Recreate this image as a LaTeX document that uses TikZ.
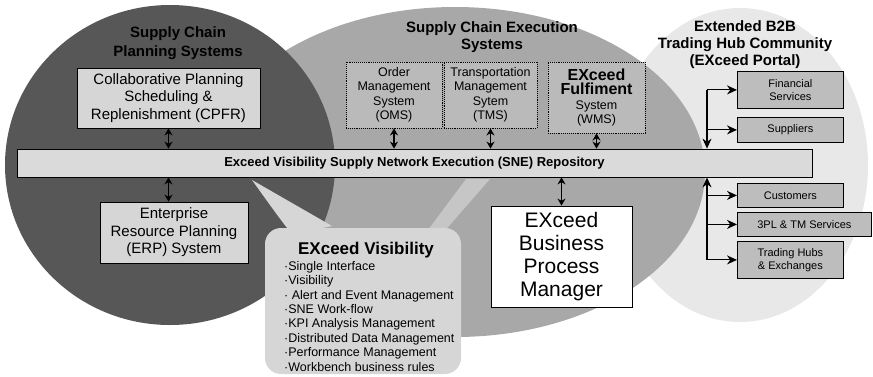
\documentclass[tikz,border=0pt]{standalone}
\usepackage{fontspec}
\setmainfont{Liberation Sans}
\usetikzlibrary{arrows.meta,positioning,calc}

\definecolor{darkball}{gray}{0.34}
\definecolor{midball}{gray}{0.66}
\definecolor{lightball}{gray}{0.91}
\definecolor{panel}{gray}{0.84}
\definecolor{partner}{gray}{0.74}

\newcommand{\bigbold}{\bfseries\fontsize{16}{18}\selectfont}

\tikzset{
  heading/.style={align=center, font=\bfseries\fontsize{15}{17}\selectfont},
  planbox/.style={draw=black, line width=0.8pt, fill=panel, align=center, inner sep=2pt, font=\fontsize{15}{17.5}\selectfont},
  execbox/.style={draw=black, densely dotted, line width=0.9pt, fill=midball!80!white, align=center, inner sep=1pt, minimum height=66pt, font=\fontsize{12.5}{14.5}\selectfont},
  hubbox/.style={draw=black, line width=0.8pt, fill=partner, align=center, inner sep=1pt, anchor=north west, font=\fontsize{11}{13}\selectfont},
  link/.style={line width=1.3pt, {Stealth[length=7pt,width=8pt]}-{Stealth[length=7pt,width=8pt]}},
  feed/.style={line width=1.1pt, -{Stealth[length=10pt,width=9pt]}},
  visfill/.style={fill=panel}
}

\begin{document}
\begin{tikzpicture}[x=1pt,y=-1pt]
	\useasboundingbox (0,0) rectangle (873,376);
	% the three spheres
	\fill[lightball] (740,165) ellipse [x radius=128pt, y radius=157pt];
	\fill[midball] (455,172) ellipse [x radius=250pt, y radius=165pt];
	\fill[darkball] (170,165) ellipse [x radius=165pt, y radius=160pt];
	% callout of EXceed Visibility
	\fill[midball!50!white, opacity=0.7] (466,179) -- (490,179) -- (442,234) -- (425,234) -- cycle;
	\fill[visfill] (252,180) .. controls (270,205) and (282,222) .. (292,234) -- (332,226) -- cycle;
	\fill[visfill, rounded corners=16pt] (265,228) rectangle (461,374);

	\node[heading, font=\bfseries\fontsize{15}{19}\selectfont] (plantitle) at (178,43) {Supply Chain\\Planning Systems};
	\node[heading] (exectitle) at (492,37) {Supply Chain Execution\\Systems};
	\node[heading] (hubtitle) at (745,45) {Extended B2B\\Trading Hub Community\\(EXceed Portal)};

	\node[planbox, minimum width=183pt, minimum height=60pt] (cpfr) at (168.5,98) {Collaborative Planning\\Scheduling \&\\Replenishment (CPFR)};
	\node[execbox, minimum width=96pt] (oms) at (394,95) {Order\\Management\\System\\(OMS)};
	\node[execbox, minimum width=93pt] (tms) at (490.5,95) {Transportation\\Management\\Sytem\\(TMS)};
	\node[execbox, minimum width=97pt, minimum height=71pt] (wms) at (596.5,97.5) {{\bigbold EXceed}\\{\bigbold Fulfiment}\\System\\(WMS)};

	\node[draw=black, line width=0.8pt, fill=panel!90!white, minimum width=795pt, minimum height=28pt, font=\bfseries\fontsize{13}{15}\selectfont] (sne) at (414.5,163) {Exceed Visibility Supply Network Execution (SNE) Repository};

	\node[planbox, minimum width=148pt, minimum height=61pt] (erp) at (174,232.5) {Enterprise\\Resource Planning\\(ERP) System};
	\node[draw=black, line width=0.8pt, fill=white, minimum width=141pt, minimum height=101pt, align=center, font=\fontsize{21}{23}\selectfont] (bpm) at (561.5,256.5) {EXceed\\Business\\Process\\Manager};

	\node[font=\bfseries\fontsize{17}{19}\selectfont] (vistitle) at (366,250) {EXceed Visibility};
	\node[anchor=north west, align=left, inner sep=0pt, font=\fontsize{12.5}{14.4}\selectfont] (vislist) at (284,261) {·Single Interface\\·Visibility\\· Alert and Event Management\\·SNE Work-flow\\·KPI Analysis Management\\·Distributed Data Management\\·Performance Management\\·Workbench business rules};

	\node[hubbox, minimum width=106pt, minimum height=37pt] (fin) at (737,71) {Financial\\Services};
	\node[hubbox, minimum width=106pt, minimum height=25pt] (sup) at (737,117) {Suppliers};
	\node[hubbox, minimum width=106pt, minimum height=24pt] (cus) at (737,183) {Customers};
	\node[hubbox, minimum width=134pt, minimum height=24pt] (tpl) at (737,212) {3PL \& TM Services};
	\node[hubbox, minimum width=106pt, minimum height=37pt] (thub) at (737,241) {Trading Hubs\\\& Exchanges};

	\draw[link] (cpfr.south) -- (cpfr.south |- sne.north);
	\draw[link] (oms.south) -- (oms.south |- sne.north);
	\draw[link] (tms.south) -- (tms.south |- sne.north);
	\draw[link] (wms.south) -- (wms.south |- sne.north);
	\draw[link] (cpfr.south |- sne.south) -- (cpfr.south |- erp.north);
	\draw[link] (bpm.north |- sne.south) -- (bpm.north);

	\coordinate (trunk) at (707,0);
	\draw[feed] (trunk |- fin.west) -- (trunk |- sne.north);
	\draw[feed] (trunk |- fin.west) -- (fin.west);
	\draw[feed] (trunk |- sup.west) -- (sup.west);
	\draw[feed] (trunk |- thub.west) -- (trunk |- sne.south);
	\draw[feed] (trunk |- cus.west) -- (cus.west);
	\draw[feed] (trunk |- tpl.west) -- (tpl.west);
	\draw[feed] (trunk |- thub.west) -- (thub.west);
\end{tikzpicture}
\end{document}
